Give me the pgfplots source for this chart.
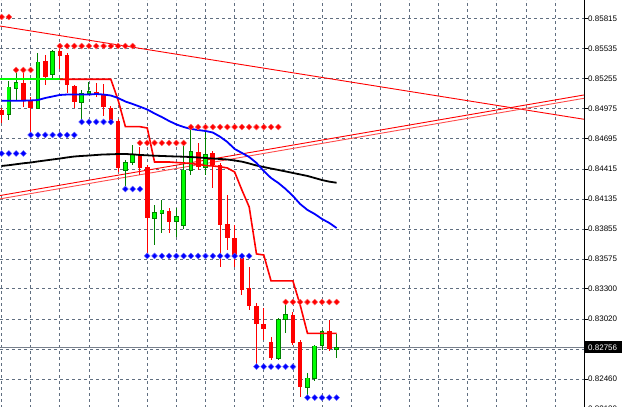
\documentclass[border=0pt]{standalone}
\usepackage{pgfplots}
\usepackage{pgfplotstable}
\pgfplotsset{compat=1.18}
\usepackage{fontspec}
\setmainfont{Liberation Sans}
\definecolor{gridc}{RGB}{96,110,128}
\definecolor{pricec}{RGB}{120,128,140}
\definecolor{mtgreen}{RGB}{0,255,0}
\definecolor{mtdkgreen}{RGB}{0,128,0}

% bullish candles: bar index, open, high, low, close
\pgfplotstableread{
i O H L C
1 0.84925 0.85232 0.84869 0.85176
2 0.85167 0.85316 0.85055 0.85213
5 0.84981 0.85492 0.84972 0.85409
7 0.85297 0.85520 0.85241 0.85511
11 0.85037 0.85148 0.84869 0.85120
12 0.85120 0.85223 0.85102 0.85134
17 0.84405 0.84497 0.84218 0.84479
18 0.84479 0.84637 0.84451 0.84553
21 0.83958 0.84079 0.83707 0.84005
22 0.84005 0.84126 0.83819 0.84033
24 0.83930 0.84051 0.83782 0.83977
25 0.83893 0.84656 0.83856 0.84405
26 0.84405 0.84804 0.84358 0.84572
28 0.84432 0.84776 0.84358 0.84544
38 0.82657 0.83029 0.82638 0.83019
39 0.83019 0.83177 0.82889 0.83066
42 0.82387 0.82517 0.82285 0.82471
43 0.82471 0.82777 0.82443 0.82768
44 0.82777 0.82917 0.82731 0.82908
46 0.82740 0.82880 0.82657 0.82756
}\bull

% bearish candles
\pgfplotstableread{
i O H L C
0 0.84962 0.84981 0.84842 0.84916
3 0.85213 0.85334 0.84990 0.85046
4 0.85055 0.85083 0.84730 0.84981
6 0.85418 0.85474 0.85195 0.85269
8 0.85511 0.85557 0.85344 0.85464
9 0.85474 0.85492 0.85120 0.85195
10 0.85185 0.85195 0.84981 0.85037
13 0.85130 0.85213 0.85083 0.85111
14 0.85111 0.85204 0.84907 0.84990
15 0.84981 0.85000 0.84823 0.84842
16 0.84860 0.84879 0.84386 0.84423
19 0.84553 0.84618 0.84358 0.84423
20 0.84432 0.84451 0.83605 0.83958
23 0.84023 0.84051 0.83819 0.83921
27 0.84572 0.84656 0.84405 0.84432
29 0.84563 0.84581 0.84237 0.84451
30 0.84451 0.84470 0.83503 0.83893
31 0.83903 0.84172 0.83661 0.83772
32 0.83772 0.83893 0.83503 0.83596
33 0.83586 0.83614 0.83242 0.83289
34 0.83308 0.83503 0.83103 0.83140
35 0.83140 0.83168 0.82576 0.82973
36 0.82973 0.83121 0.82824 0.82926
37 0.82805 0.82852 0.82638 0.82657
40 0.83056 0.83084 0.82777 0.82796
41 0.82805 0.82824 0.82294 0.82387
45 0.82908 0.83010 0.82722 0.82740
}\bear

\pgfplotstableread{
i p
0 0.84442
1 0.84449
2 0.84458
3 0.84467
4 0.84474
5 0.84484
6 0.84493
7 0.84502
8 0.84511
9 0.84521
10 0.84530
11 0.84535
12 0.84539
13 0.84544
14 0.84549
15 0.84550
16 0.84553
17 0.84553
18 0.84550
19 0.84544
20 0.84541
21 0.84537
22 0.84535
23 0.84532
24 0.84530
25 0.84528
26 0.84525
27 0.84521
28 0.84516
29 0.84511
30 0.84507
31 0.84502
32 0.84493
33 0.84482
34 0.84465
35 0.84446
36 0.84432
37 0.84418
38 0.84405
39 0.84391
40 0.84377
41 0.84363
42 0.84349
43 0.84330
44 0.84311
45 0.84296
46 0.84286
}\blackma

\pgfplotstableread{
i p
0 0.85049
1 0.85049
2 0.85049
3 0.85049
4 0.85051
5 0.85055
6 0.85074
7 0.85088
8 0.85102
9 0.85106
10 0.85106
11 0.85106
12 0.85106
13 0.85111
14 0.85106
15 0.85097
16 0.85074
17 0.85041
18 0.85018
19 0.84993
20 0.84967
21 0.84930
22 0.84897
23 0.84860
24 0.84828
25 0.84804
26 0.84786
27 0.84776
28 0.84767
29 0.84753
30 0.84714
31 0.84665
32 0.84600
33 0.84563
34 0.84525
35 0.84470
36 0.84395
37 0.84330
38 0.84284
39 0.84228
40 0.84163
41 0.84088
42 0.84033
43 0.83995
44 0.83949
45 0.83912
46 0.83865
}\bluema

\pgfplotstableread{
i p
8 0.85248
15 0.85248
16 0.85055
17 0.84807
19 0.84807
20 0.84795
21 0.84479
23 0.84479
24 0.84474
25 0.84470
26 0.84465
27 0.84456
28 0.84446
29 0.84442
30 0.84435
31 0.84423
32 0.84386
33 0.84218
34 0.84061
35 0.83624
36 0.83614
37 0.83373
40 0.83373
41 0.83149
42 0.82886
46 0.82886
}\redstep

\pgfplotstableread{
i p
-0.22 0.85248
8.4 0.85248
}\greenstep

\pgfplotstableread{
i p
0 0.85827
1 0.85827
2 0.85334
3 0.85334
4 0.85334
8 0.85557
9 0.85557
10 0.85557
11 0.85557
12 0.85557
13 0.85557
14 0.85557
15 0.85557
16 0.85557
17 0.85557
18 0.85557
19 0.84656
20 0.84656
21 0.84656
22 0.84656
23 0.84656
24 0.84656
25 0.84656
26 0.84804
27 0.84804
28 0.84804
29 0.84804
30 0.84804
31 0.84804
32 0.84804
33 0.84804
34 0.84804
35 0.84804
36 0.84804
37 0.84804
38 0.84804
39 0.83177
40 0.83177
41 0.83177
42 0.83177
43 0.83177
44 0.83177
45 0.83177
46 0.83177
}\reddots

\pgfplotstableread{
i p
0 0.84558
1 0.84558
2 0.84558
3 0.84558
4 0.84730
5 0.84730
6 0.84730
7 0.84730
8 0.84730
9 0.84730
10 0.84730
11 0.84851
12 0.84851
13 0.84851
14 0.84851
15 0.84851
17 0.84227
18 0.84227
19 0.84227
20 0.83605
21 0.83605
22 0.83605
23 0.83605
24 0.83605
25 0.83605
26 0.83605
27 0.83605
28 0.83605
29 0.83605
30 0.83605
31 0.83605
32 0.83605
33 0.83605
34 0.83605
35 0.82576
36 0.82576
37 0.82576
38 0.82576
39 0.82576
40 0.82576
42 0.82288
43 0.82288
44 0.82288
45 0.82288
46 0.82288
}\bluedots

\pgfplotsset{
  candle/.style 2 args={draw=none, mark=none, forget plot,
    error bars/.cd, y dir=both, y explicit, error mark=none,
    error bar style={draw=#1, solid, line width=#2}},
}

\begin{document}
\begin{tikzpicture}
\begin{axis}[
  at={(0pt,-13pt)}, anchor=south west,
  scale only axis, width=584pt, height=420pt,
  xmin=-0.2156, xmax=79.97, ymin=0.82080, ymax=0.85985,
  axis x line*=bottom, x axis line style={draw=none},
  axis y line*=right, y axis line style={black, line width=0.8pt},
  xtick={0,4,...,76}, xmajorticks=false, xmajorgrids=true,
  ytick={0.8218,0.8246,0.8274,0.8302,0.8330,0.83575,0.83855,0.84135,0.84415,0.84695,0.84975,0.85255,0.85535,0.85815},
  yticklabels={0.82180,0.82460,{},0.83020,0.83300,0.83575,0.83855,0.84135,0.84415,0.84695,0.84975,0.85255,0.85535,0.85815},
  tick align=outside, major tick length=4pt,
  ytick style={black, line width=0.6pt},
  yticklabel style={anchor=west, inner xsep=0pt, inner ysep=1pt, font=\fontsize{8}{9.6}\selectfont},
  ymajorgrids=true,
  major grid style={gridc, dash pattern=on 3pt off 3pt, line width=0.7pt},
  extra y ticks={0.82756},
  extra y tick labels={0.82756},
  extra y tick style={
    major grid style={solid, pricec, line width=0.8pt},
    yticklabel style={fill=black, text=white, inner xsep=4.5pt, inner ysep=3pt, xshift=-4.5pt}},
  clip=true,
]
% trend lines
\addplot[red, line width=0.9pt] coordinates {(-0.2156,0.85743) (79.97,0.84876)};
\addplot[red, line width=0.9pt] coordinates {(-0.2156,0.84167) (79.97,0.85102)};
\addplot[red!70, line width=0.9pt] coordinates {(-0.2156,0.84136) (79.97,0.85071)};

% bearish wicks and bodies
\addplot[candle={red}{1pt}]
  table[x=i, y expr={(\thisrow{H}+\thisrow{L})/2}, y error expr={(\thisrow{H}-\thisrow{L})/2}] {\bear};
\addplot[candle={red}{4.6pt}]
  table[x=i, y expr={(\thisrow{O}+\thisrow{C})/2}, y error expr={(\thisrow{O}-\thisrow{C})/2}] {\bear};

% bullish wicks and bodies
\addplot[candle={mtdkgreen}{1pt}]
  table[x=i, y expr={(\thisrow{H}+\thisrow{L})/2}, y error expr={(\thisrow{H}-\thisrow{L})/2}] {\bull};
\addplot[candle={mtdkgreen}{4.6pt}]
  table[x=i, y expr={(\thisrow{O}+\thisrow{C})/2}, y error expr={(\thisrow{C}-\thisrow{O})/2+0.00005}] {\bull};
\addplot[candle={mtgreen}{2.8pt}]
  table[x=i, y expr={(\thisrow{O}+\thisrow{C})/2}, y error expr={max((\thisrow{C}-\thisrow{O})/2-0.00004,0.00001)}] {\bull};

% step line
\addplot[mtgreen, line width=1.6pt] table[x=i, y=p] {\greenstep};
\addplot[red, line width=1.6pt] table[x=i, y=p] {\redstep};

% moving averages
\addplot[black, line width=1.8pt] table[x=i, y=p] {\blackma};
\addplot[blue, line width=1.8pt] table[x=i, y=p] {\bluema};

% channel dots
\addplot[only marks, mark=square*, mark size=2.1pt, mark options={rotate=45, fill=red, draw=red!60, line width=0.4pt}] table[x=i, y=p] {\reddots};
\addplot[only marks, mark=square*, mark size=2.1pt, mark options={rotate=45, fill=blue, draw=blue!60, line width=0.4pt}] table[x=i, y=p] {\bluedots};
\end{axis}
\pgfresetboundingbox
\useasboundingbox (0,0) rectangle (625pt,407pt);
\end{tikzpicture}
\end{document}
